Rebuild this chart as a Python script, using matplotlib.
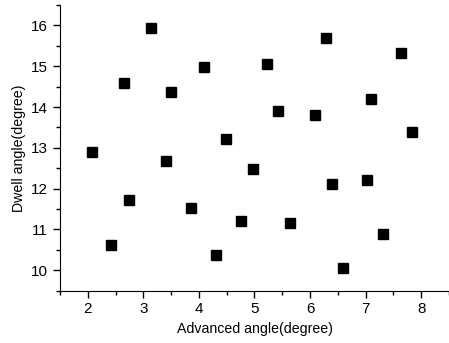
import matplotlib
matplotlib.use("Agg")
import matplotlib.pyplot as plt
from matplotlib.ticker import MultipleLocator

plt.rcParams['font.family'] = ['Liberation Sans', 'DejaVu Sans']

# advanced angle (x) and dwell angle (y), degrees
adv = [2.08, 2.42, 2.66, 2.74, 3.13, 3.41, 3.50, 3.85, 4.10, 4.31, 4.49, 4.75, 4.97,
       5.23, 5.42, 5.63, 6.08, 6.28, 6.39, 6.59, 7.03, 7.09, 7.32, 7.63, 7.83]
dwell = [12.90, 10.61, 14.59, 11.73, 15.93, 12.68, 14.38, 11.53, 14.98, 10.38, 13.22, 11.20, 12.48,
         15.06, 13.90, 11.15, 13.81, 15.68, 12.12, 10.06, 12.21, 14.19, 10.88, 15.32, 13.40]

fig = plt.figure(figsize=(4.49, 3.43), dpi=100)
ax = fig.add_axes([0.1336, 0.1525, 0.8664, 0.8329])
ax.plot(adv, dwell, 's', color='black', markersize=6.5, linestyle='none')

ax.set_xlim(1.5, 8.5)
ax.set_ylim(9.5, 16.5)
ax.xaxis.set_major_locator(MultipleLocator(1))
ax.xaxis.set_minor_locator(MultipleLocator(0.5))
ax.yaxis.set_major_locator(MultipleLocator(1))
ax.yaxis.set_minor_locator(MultipleLocator(0.5))
ax.spines['top'].set_visible(False)
ax.spines['right'].set_visible(False)
ax.tick_params(which='major', direction='out', length=5, width=1, labelsize=11)
ax.tick_params(which='minor', direction='out', length=3, width=1)

ax.set_xlabel("Advanced angle(degree)", fontsize=10.2)
ax.set_ylabel("Dwell angle(degree)", fontsize=10.2)

fig.savefig("out.png", dpi=100)
